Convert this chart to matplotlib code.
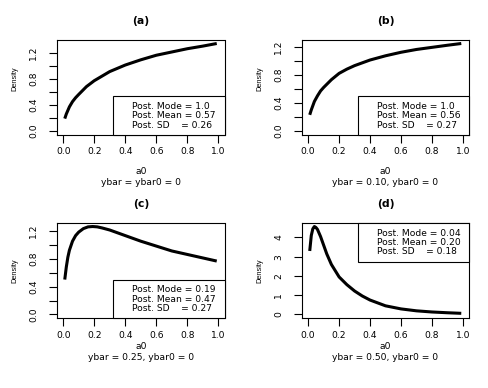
import matplotlib
matplotlib.use('Agg')
import matplotlib.pyplot as plt
from matplotlib.patches import Rectangle

# ---------------- data ----------------
a0_a = [0.01, 0.02, 0.04, 0.06, 0.08, 0.10, 0.15, 0.20, 0.25, 0.30, 0.40, 0.50, 0.60, 0.70, 0.80, 0.90, 0.99]
dens_a = [0.19, 0.26, 0.37, 0.45, 0.51, 0.56, 0.68, 0.77, 0.84, 0.91, 1.01, 1.09, 1.16, 1.21, 1.26, 1.30, 1.34]

a0_b = [0.01, 0.02, 0.04, 0.06, 0.08, 0.10, 0.15, 0.20, 0.25, 0.30, 0.40, 0.50, 0.60, 0.70, 0.80, 0.90, 0.99]
dens_b = [0.23, 0.30, 0.42, 0.50, 0.57, 0.62, 0.73, 0.82, 0.88, 0.93, 1.01, 1.07, 1.12, 1.16, 1.19, 1.22, 1.245]

a0_c = [0.01, 0.02, 0.03, 0.04, 0.06, 0.08, 0.10, 0.13, 0.16, 0.19, 0.22, 0.25, 0.30, 0.35, 0.40,
        0.50, 0.60, 0.70, 0.80, 0.90, 0.99]
dens_c = [0.50, 0.68, 0.82, 0.92, 1.05, 1.13, 1.18, 1.23, 1.255, 1.26, 1.255, 1.24, 1.21, 1.17, 1.13,
          1.05, 0.98, 0.91, 0.86, 0.81, 0.765]

a0_d = [0.01, 0.02, 0.03, 0.04, 0.05, 0.06, 0.08, 0.10, 0.12, 0.15, 0.20, 0.25, 0.30, 0.35, 0.40,
        0.50, 0.60, 0.70, 0.80, 0.90, 0.99]
dens_d = [3.3, 4.1, 4.45, 4.57, 4.52, 4.42, 4.05, 3.6, 3.15, 2.6, 1.95, 1.55, 1.22, 0.96, 0.75,
          0.45, 0.29, 0.19, 0.13, 0.09, 0.06]

titles = ["(a)", "(b)", "(c)", "(d)"]
xlabels = ["a0\nybar = ybar0 = 0", "a0\nybar = 0.10, ybar0 = 0",
           "a0\nybar = 0.25, ybar0 = 0", "a0\nybar = 0.50, ybar0 = 0"]
legend_texts = [
    ["Post. Mode = 1.0", "Post. Mean = 0.57", "Post. SD    = 0.26"],
    ["Post. Mode = 1.0", "Post. Mean = 0.56", "Post. SD    = 0.27"],
    ["Post. Mode = 0.19", "Post. Mean = 0.47", "Post. SD    = 0.27"],
    ["Post. Mode = 0.04", "Post. Mean = 0.20", "Post. SD    = 0.18"],
]
legend_locs = ["bottom", "bottom", "bottom", "top"]
xticks = [0.0, 0.2, 0.4, 0.6, 0.8, 1.0]
yticks_small = [0.0, 0.2, 0.4, 0.6, 0.8, 1.0, 1.2]
ylabels_small = ["0.0", "", "0.4", "", "0.8", "", "1.2"]
yticks_d = [0, 1, 2, 3, 4]
ylabels_d = ["0", "1", "2", "3", "4"]

series = [(a0_a, dens_a), (a0_b, dens_b), (a0_c, dens_c), (a0_d, dens_d)]

# ---------------- layout ----------------
W, H = 488, 388
plt.rcParams['font.family'] = ['DejaVu Sans']
fig = plt.figure(figsize=(W / 100, H / 100), dpi=100)

boxes = [(57, 40, 224.5, 134.5), (302, 40, 469, 134.5),
         (57, 223, 224.5, 318), (302, 223, 469, 318)]
xlab_off = [37, 37, 28.5, 28.5]      # px below box for "a0" line
ylab_off = [-9, -9, 0, 0]            # px vertical shift of "Density"

FS = 6.6
for i, (x0, y0, x1, y1) in enumerate(boxes):
    ax = fig.add_axes([x0 / W, 1 - y1 / H, (x1 - x0) / W, (y1 - y0) / H])
    xs, ys = series[i]
    ax.plot(xs, ys, color='black', lw=2.2, solid_capstyle='butt')
    ymax = max(ys)
    ax.set_xlim(-0.04, 1.04)
    ax.set_ylim(-0.04 * ymax, 1.04 * ymax)
    ax.set_xticks(xticks)
    ax.set_xticklabels(["%.1f" % t for t in xticks])
    if i < 3:
        ax.set_yticks(yticks_small)
        ax.set_yticklabels(ylabels_small, rotation=90, va='center')
    else:
        ax.set_yticks(yticks_d)
        ax.set_yticklabels(ylabels_d, rotation=90, va='center')
    ax.tick_params(axis='both', direction='out', length=5.5, width=0.8,
                   labelsize=FS, color='black')
    ax.tick_params(axis='x', pad=3.5)
    ax.tick_params(axis='y', pad=8)
    for s in ax.spines.values():
        s.set_linewidth(0.8)
    bw, bh = x1 - x0, y1 - y0
    # title
    ax.text(0.5, 1 + 19 / bh, titles[i], transform=ax.transAxes, ha='center',
            va='center', fontsize=7.8, fontweight='bold')
    # x label (two lines)
    lines = xlabels[i].split("\n")
    ax.text(0.5, -xlab_off[i] / bh, lines[0], transform=ax.transAxes,
            ha='center', va='center', fontsize=FS)
    ax.text(0.5, -(xlab_off[i] + 11) / bh, lines[1], transform=ax.transAxes,
            ha='center', va='center', fontsize=FS)
    # y label
    ax.text(-42 / bw, 0.5 - ylab_off[i] / bh, "Density", transform=ax.transAxes,
            ha='center', va='center', rotation=90, fontsize=5.3,
            family=['Liberation Sans', 'DejaVu Sans'])
    # legend box
    if legend_locs[i] == "bottom":
        ax.add_patch(Rectangle((0.333, 0.0), 0.667, 0.405, transform=ax.transAxes,
                               facecolor='white', edgecolor='black', lw=0.8,
                               zorder=3, clip_on=False))
        ys_txt = [0.30, 0.20, 0.10]
    else:
        ax.add_patch(Rectangle((0.333, 0.59), 0.667, 0.41, transform=ax.transAxes,
                               facecolor='white', edgecolor='black', lw=0.8,
                               zorder=3, clip_on=False))
        ys_txt = [0.887, 0.797, 0.702]
    for t, yy in zip(legend_texts[i], ys_txt):
        ax.text(0.447, yy, t, transform=ax.transAxes, ha='left', va='center',
                fontsize=FS, zorder=4)

fig.savefig("out.png", dpi=100)
